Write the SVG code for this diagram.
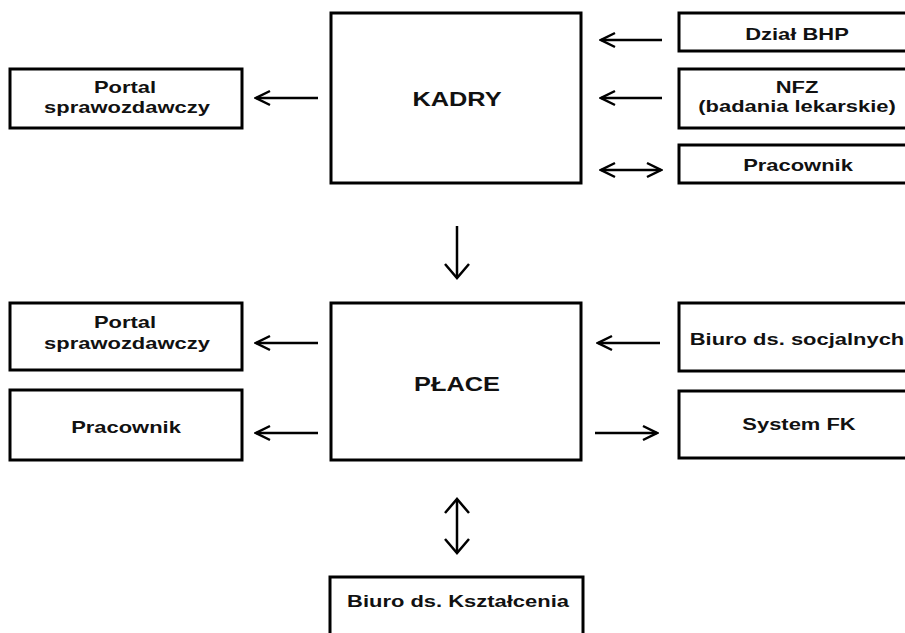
<svg xmlns="http://www.w3.org/2000/svg" width="905" height="633" viewBox="0 0 905 633">
<style>
.box{fill:#fff;stroke:#000;stroke-width:3}
.t{font-family:"Liberation Sans",Arial,sans-serif;font-weight:bold;font-size:16.5px;text-anchor:middle;fill:#111}
.big{font-size:19.5px}
.c{stroke:#000;stroke-width:2.5;fill:none}
</style>
<defs>
<marker id="ah" viewBox="-1 -1 18 18" refX="15" refY="8" markerWidth="18" markerHeight="18" markerUnits="userSpaceOnUse" orient="auto-start-reverse">
<path d="M1,1 L15,8 L1,15" fill="none" stroke="#000" stroke-width="2.5"/>
</marker>
<marker id="av" viewBox="-1 -1 18 28" refX="15" refY="13" markerWidth="18" markerHeight="28" markerUnits="userSpaceOnUse" orient="auto-start-reverse">
<path d="M1,1 L15,13 L1,25" fill="none" stroke="#000" stroke-width="2.5"/>
</marker>
</defs>
<rect width="905" height="633" fill="#fff"/>
<g id="kadry"><rect class="box" x="331" y="13" width="250" height="170"/><text class="t big" transform="translate(457,106) scale(1.3,1)">KADRY</text></g>
<g id="place"><rect class="box" x="331" y="303" width="250" height="157"/><text class="t big" transform="translate(457,391) scale(1.3,1)">PŁACE</text></g>
<g id="bhp"><rect class="box" x="679" y="13" width="240" height="38"/><text class="t" transform="translate(797,40) scale(1.33,1)">Dział BHP</text></g>
<g id="nfz"><rect class="box" x="679" y="69" width="240" height="59"/><text class="t" transform="translate(797,93) scale(1.33,1)">NFZ</text><text class="t" transform="translate(797,112) scale(1.33,1)">(badania lekarskie)</text></g>
<g id="pracownik1"><rect class="box" x="679" y="145" width="240" height="38"/><text class="t" transform="translate(798,171) scale(1.33,1)">Pracownik</text></g>
<g id="portal1"><rect class="box" x="10" y="69" width="232" height="59"/><text class="t" transform="translate(125,93) scale(1.33,1)">Portal</text><text class="t" transform="translate(127,113) scale(1.33,1)">sprawozdawczy</text></g>
<g id="portal2"><rect class="box" x="10" y="303" width="232" height="67"/><text class="t" transform="translate(125,328) scale(1.33,1)">Portal</text><text class="t" transform="translate(127,349) scale(1.33,1)">sprawozdawczy</text></g>
<g id="pracownik2"><rect class="box" x="10" y="390" width="232" height="70"/><text class="t" transform="translate(126,433) scale(1.33,1)">Pracownik</text></g>
<g id="socjalne"><rect class="box" x="679" y="303" width="240" height="68"/><text class="t" transform="translate(797,345) scale(1.33,1)">Biuro ds. socjalnych</text></g>
<g id="fk"><rect class="box" x="679" y="391" width="240" height="67"/><text class="t" transform="translate(799,430) scale(1.33,1)">System FK</text></g>
<g id="ksztalcenie"><rect class="box" x="330" y="577" width="253" height="70"/><text class="t" transform="translate(458,607) scale(1.33,1)">Biuro ds. Kształcenia</text></g>
<g id="connectors">
<line class="c" x1="662" y1="40" x2="601" y2="40" marker-end="url(#ah)"/>
<line class="c" x1="662" y1="98" x2="601" y2="98" marker-end="url(#ah)"/>
<line class="c" x1="601" y1="170" x2="661" y2="170" marker-start="url(#ah)" marker-end="url(#ah)"/>
<line class="c" x1="318" y1="98" x2="256" y2="98" marker-end="url(#ah)"/>
<line class="c" x1="457" y1="226" x2="457" y2="278" marker-end="url(#av)"/>
<line class="c" x1="318" y1="343" x2="256" y2="343" marker-end="url(#ah)"/>
<line class="c" x1="318" y1="433" x2="256" y2="433" marker-end="url(#ah)"/>
<line class="c" x1="660" y1="343" x2="598" y2="343" marker-end="url(#ah)"/>
<line class="c" x1="595" y1="433" x2="657" y2="433" marker-end="url(#ah)"/>
<line class="c" x1="457" y1="499" x2="457" y2="553" marker-start="url(#av)" marker-end="url(#av)"/>
</g>
</svg>
